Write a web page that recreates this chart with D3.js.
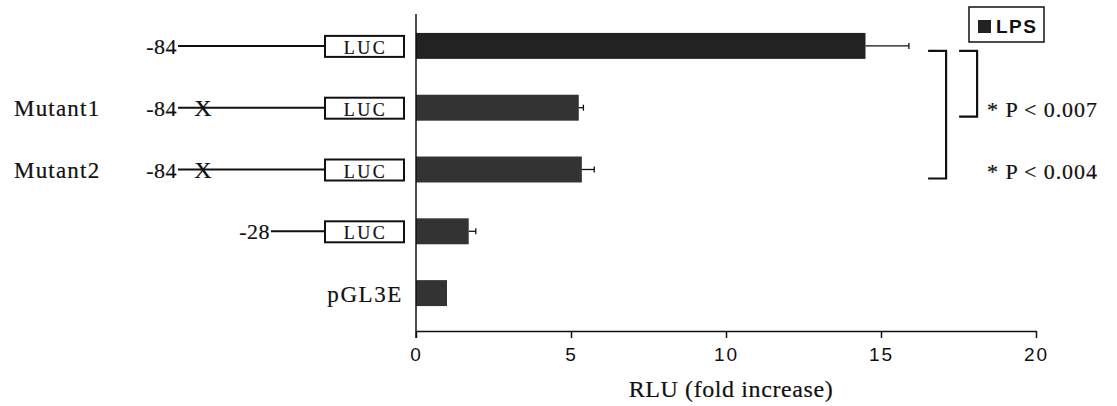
<!DOCTYPE html>
<html>
<head>
<meta charset="utf-8">
<script src="https://cdn.jsdelivr.net/npm/d3@7"></script>
<style>
  body { margin: 0; background: #fff; }
  svg { display: block; }
  .serif { font-family: "Liberation Serif", "Times New Roman", serif; fill: #111; stroke: #111; stroke-width: 0.2px; }
  .sans { font-family: "Liberation Sans", Arial, sans-serif; fill: #111; }
</style>
</head>
<body>
<div id="chart"></div>
<script>
// constructs (top to bottom) and their LPS response
const categories = ["-84", "Mutant1", "Mutant2", "-28", "pGL3E"];
const rowNames = ["", "Mutant1", "Mutant2", "", ""];
const promoterStart = [-84, -84, -84, -28, null];
const mutated = [false, true, true, false, false];
const values = [14.5, 5.25, 5.35, 1.7, 1.0];
const errors = [1.4, 0.15, 0.4, 0.23, 0];
const tickValues = [0, 5, 10, 15, 20];
const pLabels = ["* P < 0.007", "* P < 0.004"];
const seriesName = "LPS";

const width = 1117;
const height = 406;
const barColor = "#333";

const svg = d3.select("#chart").append("svg")
  .attr("width", width)
  .attr("height", height);

const x = d3.scaleLinear().domain([0, 20]).range([416, 1036]);
const y = d3.scaleBand().domain(categories).range([15, 324])
  .paddingInner(0.58).paddingOuter(0.29);
const bp = d3.scaleLinear().domain([-84, -28]).range([178, 271]); // promoter start
const boxX = 325, boxW = 79;
const axisY = 331;

// bars
svg.append("g")
  .selectAll("rect")
  .data(categories)
  .join("rect")
  .attr("x", x(0))
  .attr("y", d => y(d))
  .attr("width", (d, i) => x(values[i]) - x(0))
  .attr("height", y.bandwidth())
  .attr("fill", (d, i) => i === 0 ? "#222" : barColor);

// error bars (positive side only)
const eb = svg.append("g").attr("stroke", "#111").attr("stroke-width", 1.3);
categories.forEach((c, i) => {
  if (!errors[i]) return;
  const cy = y(c) + y.bandwidth() / 2;
  eb.append("line")
    .attr("x1", x(values[i])).attr("x2", x(values[i] + errors[i]))
    .attr("y1", cy).attr("y2", cy);
  eb.append("line")
    .attr("x1", x(values[i] + errors[i])).attr("x2", x(values[i] + errors[i]))
    .attr("y1", cy - 3).attr("y2", cy + 3);
});

// x axis
const xAxis = svg.append("g")
  .attr("transform", `translate(0,${axisY})`)
  .call(d3.axisBottom(x).tickValues(tickValues).tickSize(7).tickPadding(10).tickSizeOuter(0));
xAxis.select(".domain").attr("stroke", "#111").attr("stroke-width", 1.5);
xAxis.selectAll(".tick line").attr("stroke", "#111").attr("stroke-width", 1.5);
xAxis.selectAll(".tick text")
  .attr("class", "sans")
  .attr("fill", "#111")
  .style("font-size", "19px")
  .style("letter-spacing", "2px");

// y axis line
svg.append("line")
  .attr("x1", x(0)).attr("x2", x(0))
  .attr("y1", 14).attr("y2", axisY + 7)
  .attr("stroke", "#111").attr("stroke-width", 1.5);

svg.append("text")
  .attr("class", "serif")
  .attr("x", (x(0) + x(20)) / 2 + 5)
  .attr("y", 397)
  .attr("text-anchor", "middle")
  .style("font-size", "24px")
  .style("letter-spacing", "0.6px")
  .text("RLU (fold increase)");

// construct diagrams on the left
const rows = svg.append("g");
categories.forEach((c, i) => {
  const cy = y(c) + y.bandwidth() / 2;
  const g = rows.append("g");

  if (rowNames[i]) {
    g.append("text")
      .attr("class", "serif")
      .attr("x", 14).attr("y", cy + 8)
      .style("font-size", "23px")
      .style("letter-spacing", "1.2px")
      .text(rowNames[i]);
  }

  if (promoterStart[i] == null) {
    g.append("text")
      .attr("class", "serif")
      .attr("x", 403).attr("y", cy + 9)
      .attr("text-anchor", "end")
      .style("font-size", "23px")
      .style("letter-spacing", "1.6px")
      .text(c);
    return;
  }

  const x0 = bp(promoterStart[i]);
  g.append("text")
    .attr("class", "serif")
    .attr("x", x0 - 1).attr("y", cy + 8)
    .attr("text-anchor", "end")
    .style("font-size", "22px")
    .style("letter-spacing", "0.5px")
    .text(promoterStart[i]);

  g.append("line")
    .attr("x1", x0).attr("x2", boxX)
    .attr("y1", cy).attr("y2", cy)
    .attr("stroke", "#111").attr("stroke-width", 2);

  if (mutated[i]) {
    g.append("text")
      .attr("class", "serif")
      .attr("x", x0 + 25).attr("y", cy + 8)
      .attr("text-anchor", "middle")
      .style("font-size", "24px")
      .text("X");
  }

  g.append("rect")
    .attr("x", boxX).attr("y", cy - 10)
    .attr("width", boxW).attr("height", 21)
    .attr("fill", "#fff")
    .attr("stroke", "#111").attr("stroke-width", 2);

  g.append("text")
    .attr("class", "serif")
    .attr("x", boxX + boxW / 2 + 1).attr("y", cy + 8)
    .attr("text-anchor", "middle")
    .style("font-size", "18px")
    .style("letter-spacing", "2.5px")
    .text("LUC");
});

// significance brackets
const brackets = [
  { from: 0, to: 1, at: 18.1, label: pLabels[0] },
  { from: 0, to: 2, at: 17.1, label: pLabels[1] }
];
const bg = svg.append("g");
brackets.forEach(b => {
  const yTop = y(categories[b.from]) + y.bandwidth() / 2 + 5;
  const yBot = y(categories[b.to]) + y.bandwidth() / 2 + 9;
  const bx = x(b.at);
  bg.append("path")
    .attr("d", `M${bx - 18},${yTop}H${bx}V${yBot}H${bx - 18}`)
    .attr("fill", "none")
    .attr("stroke", "#111")
    .attr("stroke-width", 2.2);
  bg.append("text")
    .attr("class", "serif")
    .attr("x", x(18.1) + 10)
    .attr("y", yBot)
    .style("font-size", "22px")
    .style("letter-spacing", "0.9px")
    .text(b.label);
});

// legend
const lg = svg.append("g").attr("transform", "translate(969,7)");
lg.append("rect")
  .attr("width", 75).attr("height", 35)
  .attr("fill", "#fff")
  .attr("stroke", "#111").attr("stroke-width", 1.5);
lg.append("rect")
  .attr("x", 9).attr("y", 13)
  .attr("width", 13).attr("height", 13)
  .attr("fill", "#222");
lg.append("text")
  .attr("class", "sans")
  .attr("x", 27).attr("y", 26)
  .style("font-size", "19px")
  .style("font-weight", "bold")
  .style("letter-spacing", "1.5px")
  .text(seriesName);
</script>
</body>
</html>
